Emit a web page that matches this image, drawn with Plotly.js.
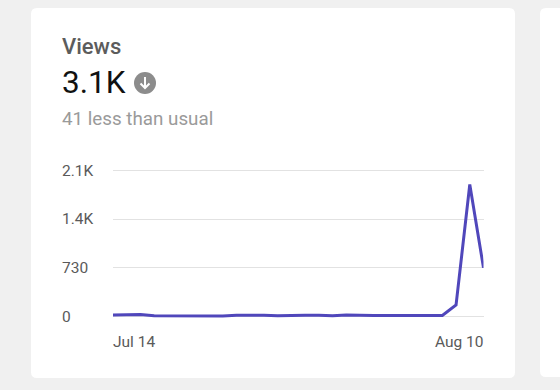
<!DOCTYPE html>
<html>
<head>
<meta charset="utf-8">
<script src="https://cdn.plot.ly/plotly-3.0.1.min.js"></script>
<style>html,body{margin:0;padding:0;background:#f0f0f0;overflow:hidden}#c{width:560px;height:390px}</style>
</head>
<body>
<div id="c"></div>
<script>
const views = [24,25,30,12,10,10,16,10,9,18,20,20,10,18,18,18,10,22,16,16,16,16,16,16,16,172,1980,730];
const yTickVals = [0,730,1460,2190];
const yTickText = ['0','730','1.4K','2.1K'];
const xTickDates = ['2024-07-14','2024-08-10'];
const xTickText = ['Jul 14','Aug 10'];
const dates = views.map((_, i) => {
  const d = new Date(Date.UTC(2024, 6, 14 + i));
  return d.toISOString().slice(0, 10);
});
const W = 560, H = 390;
const px = x => x / W, py = y => 1 - y / H;
const F = 'Roboto, sans-serif';
function rr(x0, y0, x1, y1, r) {
  const X = px, Y = py;
  return `M${X(x0+r)},${Y(y0)} L${X(x1-r)},${Y(y0)} Q${X(x1)},${Y(y0)} ${X(x1)},${Y(y0+r)} ` +
         `L${X(x1)},${Y(y1-r)} Q${X(x1)},${Y(y1)} ${X(x1-r)},${Y(y1)} L${X(x0+r)},${Y(y1)} ` +
         `Q${X(x0)},${Y(y1)} ${X(x0)},${Y(y1-r)} L${X(x0)},${Y(y0+r)} Q${X(x0)},${Y(y0)} ${X(x0+r)},${Y(y0)} Z`;
}
const paperText = (x, y, text, size, color, weight) => ({
  xref: 'paper', yref: 'paper', x: px(x), y: py(y), xanchor: 'left', yanchor: 'middle',
  text, showarrow: false, borderpad: 0, borderwidth: 0,
  font: {family: F, size, color, weight: weight || 400}
});
const tickFont = {family: F, size: 15.5, color: '#5a5a5a'};
const annotations = [
  paperText(62, 46, 'Views', 22, '#5c5c5c', 500),
  paperText(62, 82, '3.1K', 31.5, '#111111'),
  paperText(62, 119, '41 less than usual', 18.8, '#9a9a9a'),
  ...yTickVals.map((v, i) => ({
    xref: 'paper', yref: 'y', x: px(62), y: v, xanchor: 'left', yanchor: 'middle',
    text: yTickText[i], showarrow: false, borderpad: 0, borderwidth: 0, font: tickFont
  })),
  {xref: 'x', yref: 'paper', x: xTickDates[0], y: py(342), xanchor: 'left', yanchor: 'middle',
   text: xTickText[0], showarrow: false, borderpad: 0, borderwidth: 0, font: tickFont},
  {xref: 'x', yref: 'paper', x: xTickDates[1], y: py(342), xanchor: 'right', yanchor: 'middle',
   text: xTickText[1], showarrow: false, borderpad: 0, borderwidth: 0, font: tickFont}
];
const shapes = [
  {type: 'path', xref: 'paper', yref: 'paper', path: rr(31, 8, 515, 378, 6), fillcolor: '#ffffff', line: {width: 0}, layer: 'below'},
  {type: 'path', xref: 'paper', yref: 'paper', path: rr(540, 8, 580, 377, 6), fillcolor: '#ffffff', line: {width: 0}, layer: 'below'},
  {type: 'circle', xref: 'paper', yref: 'paper', x0: px(134), x1: px(156), y0: py(72), y1: py(94), fillcolor: '#8c8c8c', line: {width: 0}, layer: 'below'},
  {type: 'path', xref: 'paper', yref: 'paper',
   path: `M${px(145)},${py(77)} L${px(145)},${py(88)} M${px(140.5)},${py(83.5)} L${px(145)},${py(88)} L${px(149.5)},${py(83.5)}`,
   line: {color: '#ffffff', width: 2}, layer: 'below'}
];
const trace = {
  x: dates, y: views, type: 'scatter', mode: 'lines',
  line: {color: '#5047bb', width: 3, shape: 'linear'}, hoverinfo: 'skip', cliponaxis: true
};
const yMin = -100, yMax = 2250, scale = 146 / 2190;
const layout = {
  width: W, height: H,
  margin: {l: 0, r: 0, t: 0, b: 0, pad: 0},
  paper_bgcolor: '#f0f0f0', plot_bgcolor: 'rgba(0,0,0,0)',
  showlegend: false,
  xaxis: {
    type: 'date', domain: [px(113), px(483.5)], range: [dates[0], dates[dates.length - 1]],
    showgrid: false, zeroline: false, showline: false, showticklabels: false, ticks: ''
  },
  yaxis: {
    domain: [py(316.5 - yMin * scale), py(316.5 - yMax * scale)], range: [yMin, yMax],
    tickmode: 'array', tickvals: yTickVals, showticklabels: false, ticks: '',
    showgrid: true, gridcolor: '#e2e2e2', gridwidth: 1.3, zeroline: false, showline: false
  },
  annotations, shapes
};
Plotly.newPlot('c', [trace], layout, {displayModeBar: false, staticPlot: true});
</script>
</body>
</html>
